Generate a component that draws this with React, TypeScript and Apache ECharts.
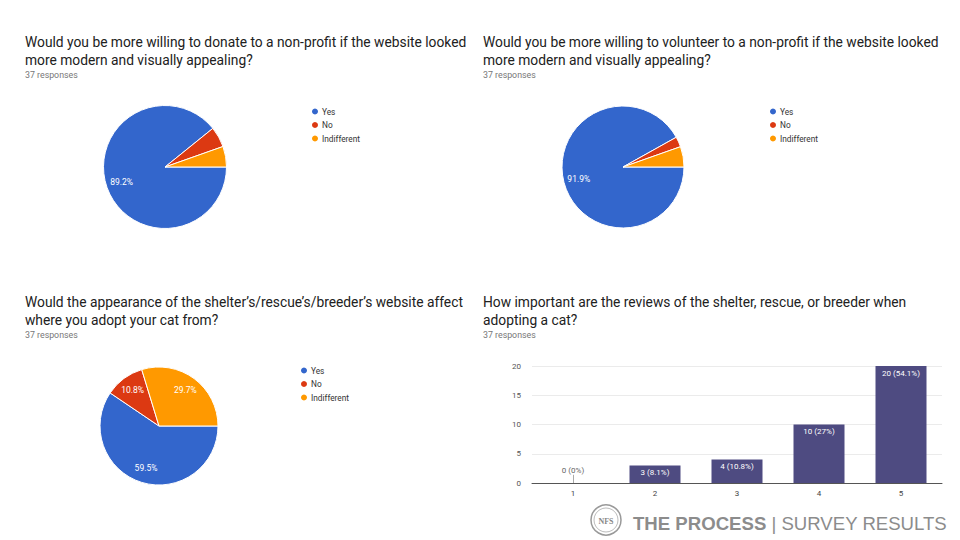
import React, { useEffect, useRef } from 'react';
import * as echarts from 'echarts';

const pieCategories = ['Yes', 'No', 'Indifferent'];
const pieColors = ['#3366cc', '#dc3912', '#ff9900'];
const donateCounts = [33, 2, 2];
const volunteerCounts = [34, 1, 2];
const appearanceCounts = [22, 4, 11];
const totalResponses = 37;

const ratingCategories = ['1', '2', '3', '4', '5'];
const ratingCounts = [0, 3, 4, 10, 20];
const ratingPercents = ['0%', '8.1%', '10.8%', '27%', '54.1%'];

const titleDonate = ['Would you be more willing to donate to a non-profit if the website looked', 'more modern and visually appealing?'];
const titleVolunteer = ['Would you be more willing to volunteer to a non-profit if the website looked', 'more modern and visually appealing?'];
const titleAppearance = ['Would the appearance of the shelter\u2019s/rescue\u2019s/breeder\u2019s website affect', 'where you adopt your cat from?'];
const titleReviews = ['How important are the reviews of the shelter, rescue, or breeder when', 'adopting a cat?'];
const responsesText = '37 responses';

const FONT = 'Roboto, "Noto Sans", sans-serif';

function titleBlock(lines: string[], x: number, y: number) {
  const els: any[] = lines.map((t, i) => ({
    type: 'text',
    x,
    y: y + i * 18,
    style: { text: t, font: `13.8px ${FONT}`, fill: '#212121', verticalAlign: 'middle' },
    silent: true,
  }));
  els.push({
    type: 'text',
    x,
    y: y + 18 * (lines.length - 1) + 15,
    style: { text: responsesText, font: `8.8px ${FONT}`, fill: '#777', verticalAlign: 'middle' },
    silent: true,
  });
  return els;
}

function pieSeries(counts: number[], cx: number, cy: number, r: number) {
  const data = counts.map((v, i) => ({ name: pieCategories[i], value: v, itemStyle: { color: pieColors[i] } }));
  return [
    {
      type: 'pie',
      center: [cx, cy],
      radius: [0, r],
      startAngle: 0,
      clockwise: true,
      data,
      label: { show: false },
      labelLine: { show: false },
      itemStyle: { borderColor: '#fff', borderWidth: 1 },
      emphasis: { disabled: true },
      silent: true,
    },
    {
      type: 'pie',
      center: [cx, cy],
      radius: [r * 0.4, r],
      startAngle: 0,
      clockwise: true,
      data: counts.map((v, i) => ({ name: pieCategories[i], value: v, itemStyle: { color: 'rgba(0,0,0,0)' } })),
      label: {
        show: true,
        position: 'inside',
        color: '#fff',
        fontSize: 8.5,
        fontFamily: FONT,
        formatter: (p: any) => {
          const pct = (p.value / totalResponses) * 100;
          return pct >= 8 ? `${pct.toFixed(1)}%` : '';
        },
      },
      labelLine: { show: false },
      emphasis: { disabled: true },
      silent: true,
    },
  ];
}

function legendAt(left: number, top: number) {
  return {
    orient: 'vertical',
    left,
    top,
    padding: 0,
    icon: 'circle',
    itemWidth: 8,
    itemHeight: 8,
    itemGap: 3.5,
    selectedMode: false,
    textStyle: { fontSize: 8.3, color: '#333', fontFamily: FONT, padding: [0, 0, 0, -2] },
    data: pieCategories.map((n, i) => ({ name: n, itemStyle: { color: pieColors[i] } })),
  };
}

export default function App() {
  const ref = useRef<HTMLDivElement>(null);
  useEffect(() => {
    if (!ref.current) return;
    const chart = echarts.init(ref.current, undefined, { renderer: 'svg' });
    const option: any = {
      animation: false,
      backgroundColor: '#fff',
      legend: [legendAt(310, 106.5), legendAt(768, 106.5), legendAt(299, 365.5)],
      grid: { left: 532, right: 18, top: 366, bottom: 57 },
      xAxis: {
        type: 'category',
        data: ratingCategories,
        axisLine: { lineStyle: { color: '#555', width: 1 } },
        axisTick: { show: false },
        axisLabel: { fontSize: 8, color: '#444', fontFamily: FONT, margin: 6 },
      },
      yAxis: {
        type: 'value',
        min: 0,
        max: 20,
        interval: 5,
        axisLine: { show: false },
        axisTick: { show: false },
        splitLine: { lineStyle: { color: '#ebebeb' } },
        axisLabel: { fontSize: 8, color: '#555', fontFamily: FONT, margin: 11 },
      },
      series: [
        ...pieSeries(donateCounts, 165, 167, 61.5),
        ...pieSeries(volunteerCounts, 623, 167, 61),
        ...pieSeries(appearanceCounts, 159, 426, 59),
        {
          type: 'bar',
          barWidth: 51,
          data: ratingCounts.map((v) => ({
            value: v,
            label:
              v === 0
                ? { position: 'top', color: '#666', distance: 9 }
                : { position: 'insideTop', color: '#fff', distance: 3 },
          })),
          itemStyle: { color: '#4e4b81' },
          label: {
            show: true,
            fontSize: 8,
            fontFamily: FONT,
            formatter: (p: any) => `${p.value} (${ratingPercents[p.dataIndex]})`,
          },
          markLine: {
            silent: true,
            symbol: 'none',
            label: { show: false },
            lineStyle: { color: '#aaa', width: 1, type: 'solid' },
            data: [[{ coord: [ratingCategories[0], 0] }, { coord: [ratingCategories[0], 1.4] }]],
          },
          emphasis: { disabled: true },
        },
      ],
      graphic: [
        ...titleBlock(titleDonate, 25, 42),
        ...titleBlock(titleVolunteer, 483, 42),
        ...titleBlock(titleAppearance, 25, 302),
        ...titleBlock(titleReviews, 483, 302),
        {
          type: 'group',
          silent: true,
          children: [
            { type: 'circle', shape: { cx: 606, cy: 520, r: 15 }, style: { fill: 'none', stroke: '#999', lineWidth: 1.5 } },
            { type: 'circle', shape: { cx: 606, cy: 520, r: 12 }, style: { fill: 'none', stroke: '#aaa', lineWidth: 0.8 } },
            {
              type: 'text',
              x: 606,
              y: 521,
              style: { text: 'NFS', font: 'bold 8px "Liberation Serif", serif', fill: '#888', align: 'center', verticalAlign: 'middle' },
            },
            {
              type: 'text',
              x: 633,
              y: 523,
              style: {
                text: '{b|THE PROCESS} | SURVEY RESULTS',
                font: '18.6px "Liberation Sans", Arial, sans-serif',
                fill: '#8c8c8c',
                verticalAlign: 'middle',
                rich: {
                  b: { fontWeight: 'bold', fontSize: 18.6, fontFamily: '"Liberation Sans", Arial, sans-serif', fill: '#8c8c8c' },
                },
              },
            },
          ],
        },
      ],
    };
    chart.setOption(option);
    return () => chart.dispose();
  }, []);
  return (
    <div
      ref={ref}
      style={{ position: 'fixed', left: 0, top: 0, width: 960, height: 540, background: '#fff' }}
    />
  );
}
